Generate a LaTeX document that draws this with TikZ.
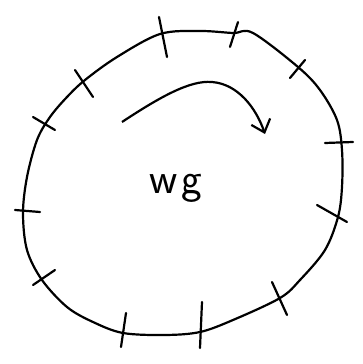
\documentclass[tikz,border=0pt]{standalone}
\usepackage{fontspec}
\usepackage{tikz}
\usetikzlibrary{arrows.meta}

\begin{document}
\begin{tikzpicture}[
    x=1pt, y=-1pt,
    outline/.style={draw=black, line width=2.2pt, line join=round},
    tickline/.style={draw=black, line width=2.2pt, line cap=round},
    flow/.style={-{Straight Barb[length=4mm, width=7mm]}, line width=2.2pt},
    handtext/.style={inner sep=0pt}
  ]
    \useasboundingbox (0,0) rectangle (362,364);

    % closed boundary
    \draw[outline] plot[smooth cycle, tension=0.55] coordinates {
      (253,33) (298,67) (320,90) (337,120) (342,150) (342,187)
      (338,217) (325,250) (300,280) (280,298) (233,320) (200,332)
      (165,335) (123,333) (93,322) (67,307) (42,280) (27,250)
      (23,213) (27,177) (37,140) (50,117) (67,97) (85,80)
      (117,57) (160,34) (200,31) (233,33)};

    % tick marks across the boundary
    \foreach \xa/\ya/\xb/\yb in {
        159/17/167/57, 238/22/230/47, 305/60/290/78,
        325/143/353/142, 317/205/347/222, 272/282/287/315,
        202/302/200/348, 126/313/121/347, 55/270/33/285,
        15/210/40/212, 33/117/55/130, 75/70/93/97}
      \draw[tickline] (\xa,\ya) -- (\xb,\yb);

    % rotation arrow
    \coordinate (start) at (122,122);
    \coordinate (tip) at (265,134);
    \draw[flow] (start) .. controls (160,97) and (190,80) .. (212,82)
      .. controls (238,84) and (256,108) .. (tip);

    \node[handtext] (wg) at (176,188) {\sffamily\fontsize{44}{48}\selectfont w\kern4pt g};
\end{tikzpicture}
\end{document}
